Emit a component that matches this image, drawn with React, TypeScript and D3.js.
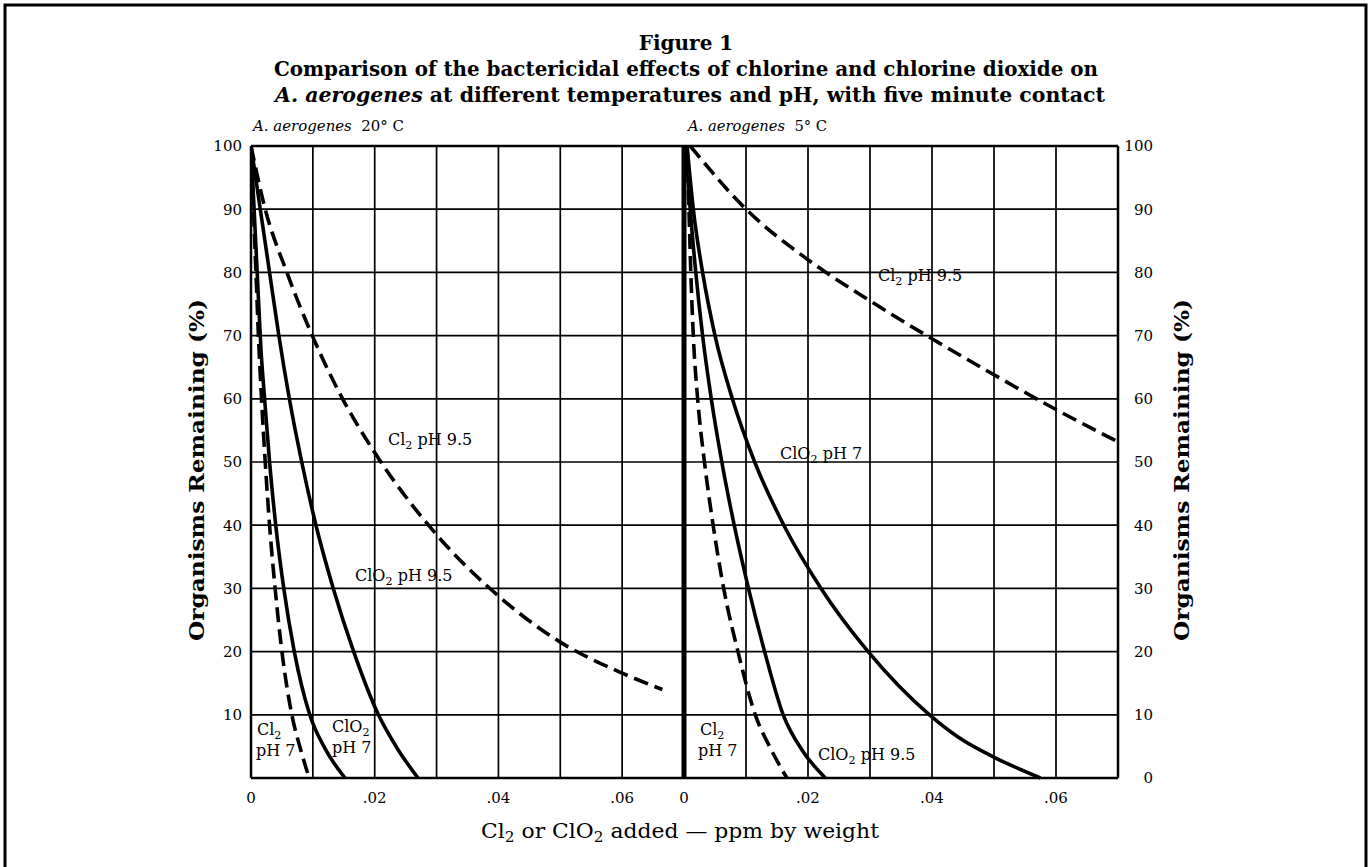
import * as d3 from 'd3';
import React from "react";

// x in ppm by weight, y in % organisms remaining
const xTicks = [0, 0.02, 0.04, 0.06];
const yTicks = [0, 10, 20, 30, 40, 50, 60, 70, 80, 90, 100];
const gridX = [0, 0.01, 0.02, 0.03, 0.04, 0.05, 0.06, 0.07];

// 20° C panel
const cl2Ph7At20: [number, number][] = [[0, 100], [0.0004, 90], [0.0008, 80], [0.0012, 70], [0.0017, 60], [0.0023, 50], [0.003, 40], [0.0039, 30], [0.005, 20], [0.0066, 10], [0.008, 4.6], [0.0094, 0]];
const clo2Ph7At20: [number, number][] = [[0, 100], [0.0005, 90], [0.001, 80], [0.0016, 68], [0.0022, 60], [0.003, 50], [0.004, 40], [0.0053, 30], [0.007, 20], [0.0095, 10], [0.012, 4.6], [0.0152, 0]];
const clo2Ph95At20: [number, number][] = [[0, 100], [0.0015, 90], [0.003, 80], [0.0045, 70], [0.0062, 60], [0.0082, 50], [0.0105, 40], [0.0133, 30], [0.0166, 20], [0.0206, 10], [0.0237, 4.6], [0.027, 0]];
const cl2Ph95At20: [number, number][] = [[0, 100], [0.0023, 90], [0.0058, 80], [0.0099, 70], [0.0148, 60], [0.02, 51.5], [0.03, 38.5], [0.04, 28.8], [0.05, 21.5], [0.06, 16.6], [0.0665, 14]];

// 5° C panel
const cl2Ph7At5: [number, number][] = [[0.0005, 100], [0.0008, 90], [0.0011, 80], [0.0015, 70], [0.0022, 60], [0.0033, 50], [0.0047, 40], [0.0064, 30], [0.0087, 20], [0.0115, 10], [0.014, 4.6], [0.0166, 0]];
const clo2Ph95At5: [number, number][] = [[0.0003, 100], [0.001, 90], [0.0019, 80], [0.003, 70], [0.0044, 60], [0.0061, 50], [0.0081, 40], [0.0104, 30], [0.013, 20], [0.016, 10], [0.0192, 4.2], [0.0228, 0]];
const clo2Ph7At5: [number, number][] = [[0.0005, 100], [0.0015, 90], [0.003, 80], [0.005, 70], [0.0078, 60], [0.0114, 50], [0.0161, 40], [0.0221, 30], [0.0297, 20], [0.0396, 10], [0.0442, 6.5], [0.0502, 3.2], [0.0575, 0]];
const cl2Ph95At5: [number, number][] = [[0.001, 100], [0.01, 90], [0.02, 82], [0.03, 75.5], [0.04, 69.5], [0.05, 63.8], [0.06, 58.3], [0.07, 53.2]];

const FONT = "'DejaVu Serif', 'Liberation Serif', serif";

// chemical formula with subscript 2
const Sub: React.FC<{ base: string; rest?: string }> = ({ base, rest }) => (
  <>
    {base}
    <tspan dy="4" fontSize="0.7em">2</tspan>
    <tspan dy="-4">{rest ?? ''}</tspan>
  </>
);

const App: React.FC = () => {
  const width = 1372;
  const height = 867;
  const top = 146, bottom = 778;
  const left20 = 251, left5 = 684, right = 1118;

  const y = d3.scaleLinear().domain([0, 100]).range([bottom, top]);
  const x20 = d3.scaleLinear().domain([0, 0.07]).range([left20, left5]);
  const x5 = d3.scaleLinear().domain([0, 0.07]).range([left5, right]);

  const lineFor = (x: d3.ScaleLinear<number, number>) =>
    d3.line<[number, number]>()
      .x(d => x(d[0]))
      .y(d => y(d[1]))
      .curve(d3.curveMonotoneX);

  const l20 = lineFor(x20);
  const l5 = lineFor(x5);
  const fmt = (v: number) => (v === 0 ? '0' : d3.format('.2f')(v).replace(/^0/, ''));

  const curves = [
    { d: l20(cl2Ph7At20), dash: true },
    { d: l20(clo2Ph7At20), dash: false },
    { d: l20(clo2Ph95At20), dash: false },
    { d: l20(cl2Ph95At20), dash: true },
    { d: l5(cl2Ph7At5), dash: true },
    { d: l5(clo2Ph95At5), dash: false },
    { d: l5(clo2Ph7At5), dash: false },
    { d: l5(cl2Ph95At5), dash: true },
  ];

  return (
    <svg width={width} height={height} style={{ position: 'absolute', left: 0, top: 0, background: '#fff' }} fontFamily={FONT}>
      <rect x={5} y={5} width={1361} height={880} fill="none" stroke="#000" strokeWidth={3} />

      <g textAnchor="middle" fontWeight="bold" fontSize={20}>
        <text x={686} y={50}>Figure 1</text>
        <text x={686} y={76} textLength={824} lengthAdjust="spacingAndGlyphs">Comparison of the bactericidal effects of chlorine and chlorine dioxide on</text>
        <text x={690} y={102} textLength={830} lengthAdjust="spacingAndGlyphs"><tspan fontStyle="italic">A. aerogenes</tspan> at different temperatures and pH, with five minute contact</text>
      </g>

      <g fontSize={15}>
        <text x={253} y={131} textLength={151} lengthAdjust="spacingAndGlyphs"><tspan fontStyle="italic">A. aerogenes</tspan>{'\u00a0 20° C'}</text>
        <text x={688} y={131} textLength={139} lengthAdjust="spacingAndGlyphs"><tspan fontStyle="italic">A. aerogenes</tspan>{'\u00a0 5° C'}</text>
      </g>

      <defs>
        <clipPath id="plot">
          <rect x={left20} y={top - 2} width={right - left20} height={bottom - top + 4} />
        </clipPath>
      </defs>

      {/* grid */}
      <g stroke="#000" strokeWidth={1.7}>
        {yTicks.map(t => (
          <line key={'h' + t} x1={left20} x2={right} y1={y(t)} y2={y(t)} />
        ))}
        {gridX.map(t => (
          <line key={'a' + t} x1={x20(t)} x2={x20(t)} y1={top} y2={bottom} />
        ))}
        {gridX.map(t => (
          <line key={'b' + t} x1={x5(t)} x2={x5(t)} y1={top} y2={bottom} />
        ))}
      </g>
      <line x1={left5} x2={left5} y1={top} y2={bottom} stroke="#000" strokeWidth={5} />
      <line x1={left20} x2={left20} y1={top} y2={bottom} stroke="#000" strokeWidth={2.5} />
      <line x1={right} x2={right} y1={top} y2={bottom} stroke="#000" strokeWidth={2.5} />
      <line x1={left20} x2={right} y1={bottom} y2={bottom} stroke="#000" strokeWidth={2.5} />
      <line x1={left20} x2={right} y1={top} y2={top} stroke="#000" strokeWidth={2.5} />

      {/* curves */}
      <g clipPath="url(#plot)" fill="none" stroke="#000" strokeWidth={3.6}>
        {curves.map((c, i) => (
          <path key={i} d={c.d ?? ''} strokeDasharray={c.dash ? '15 7' : undefined} />
        ))}
      </g>

      {/* y ticks */}
      <g fontSize={15}>
        {yTicks.filter(t => t > 0).map(t => (
          <text key={'l' + t} x={242} y={y(t)} dy="0.36em" textAnchor="end">{t}</text>
        ))}
        {yTicks.map(t => (
          <text key={'r' + t} x={1153} y={y(t)} dy="0.36em" textAnchor="end">{t}</text>
        ))}
      </g>

      {/* x ticks */}
      <g fontSize={15} textAnchor="middle">
        {xTicks.map(t => (
          <text key={'x20' + t} x={x20(t)} y={803}>{fmt(t)}</text>
        ))}
        {xTicks.map(t => (
          <text key={'x5' + t} x={x5(t)} y={803}>{fmt(t)}</text>
        ))}
      </g>

      <text x={680} y={838} fontSize={21} textAnchor="middle" textLength={398} lengthAdjust="spacingAndGlyphs">
        <Sub base="Cl" rest=" or ClO" />
        <tspan dy="4" fontSize="0.7em">2</tspan>
        <tspan dy="-4"> added — ppm by weight</tspan>
      </text>

      <text transform="translate(204,470) rotate(-90)" fontSize={21} fontWeight="bold" textAnchor="middle" textLength={342} lengthAdjust="spacingAndGlyphs">Organisms Remaining (%)</text>
      <text transform="translate(1189,470) rotate(-90)" fontSize={21} fontWeight="bold" textAnchor="middle" textLength={342} lengthAdjust="spacingAndGlyphs">Organisms Remaining (%)</text>

      {/* curve labels */}
      <g fontSize={16}>
        <text x={388} y={445}><Sub base="Cl" rest=" pH 9.5" /></text>
        <text x={355} y={581}><Sub base="ClO" rest=" pH 9.5" /></text>
        <text x={257} y={735}><Sub base="Cl" /></text>
        <text x={256} y={756}>pH 7</text>
        <text x={332} y={732}><Sub base="ClO" /></text>
        <text x={332} y={753}>pH 7</text>

        <text x={878} y={281}><Sub base="Cl" rest=" pH 9.5" /></text>
        <text x={780} y={459}><Sub base="ClO" rest=" pH 7" /></text>
        <text x={700} y={735}><Sub base="Cl" /></text>
        <text x={698} y={756}>pH 7</text>
        <text x={818} y={760}><Sub base="ClO" rest=" pH 9.5" /></text>
      </g>
    </svg>
  );
};

export default App;
